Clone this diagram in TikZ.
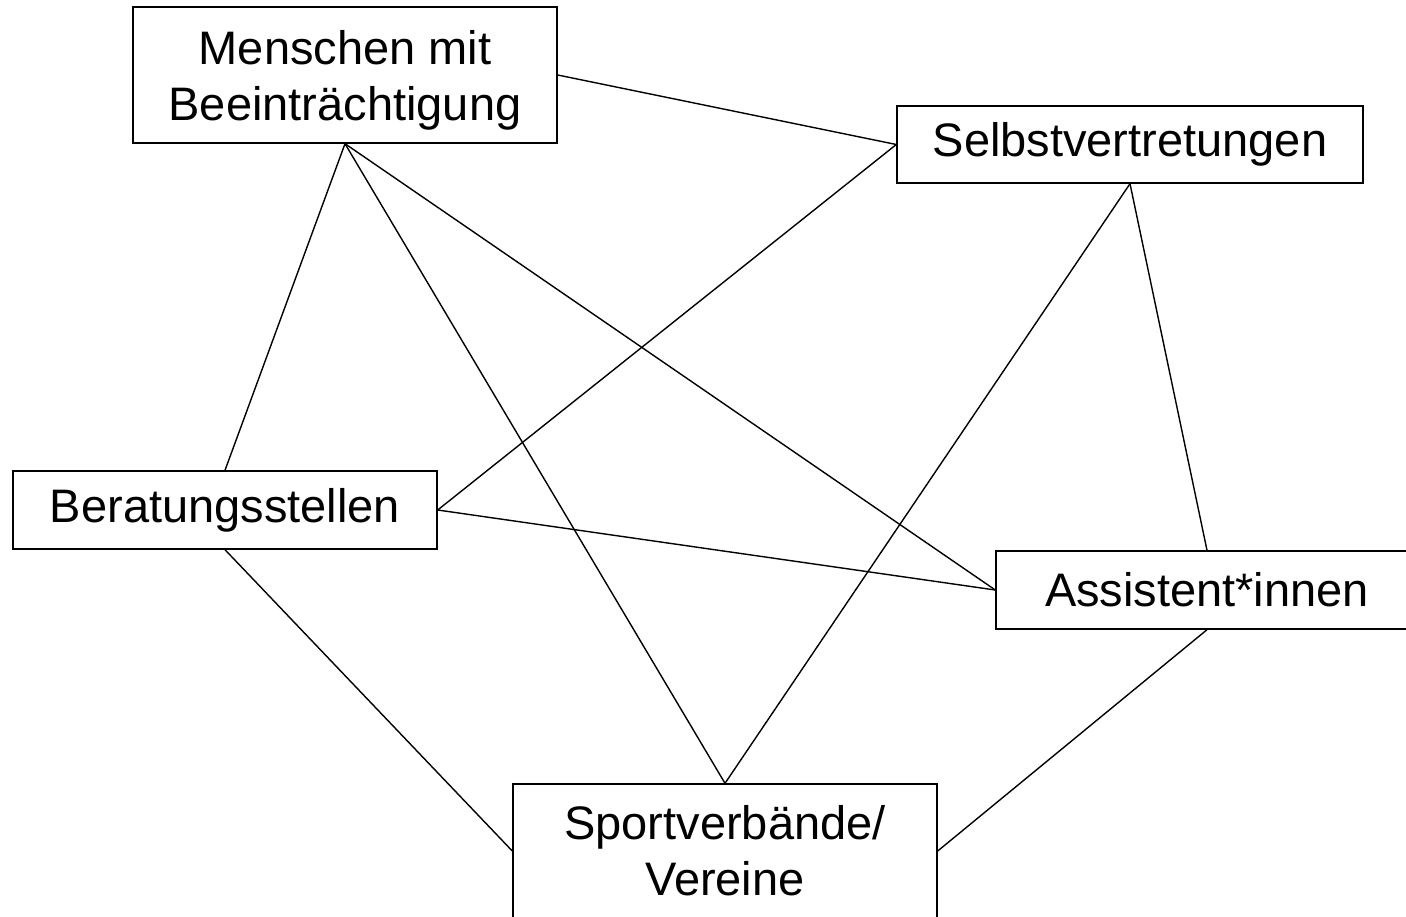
\documentclass[tikz,border=0pt]{standalone}
\usepackage{fontspec}
\setmainfont{Liberation Sans}
\begin{document}
\begin{tikzpicture}[x=1pt,y=-1pt,
  box/.style={draw, line width=1.4pt, inner sep=0pt, align=center, font=\fontsize{47}{56}\selectfont},
  link/.style={line width=1.4pt}]
\useasboundingbox (0,0) rectangle (1406,916);
\clip (0,0) rectangle (1406,916);
\fill[white] (0,0) rectangle (1406,916);
\node[box, minimum width=424pt, minimum height=136pt] (m) at (345,75) {\rule{0pt}{44pt}Menschen mit\\Beeinträchtigung};
\node[box, minimum width=466pt, minimum height=77pt] (s) at (1130,144.5) {Selbstvertretungen};
\node[box, minimum width=424pt, minimum height=78pt] (b) at (225,510) {Beratungsstellen};
\node[box, minimum width=422pt, minimum height=78pt] (a) at (1207,590) {Assistent*innen};
\node[box, minimum width=424pt, minimum height=134pt] (v) at (725,851) {Sportverbände/\\Vereine};
\draw[link] (m.east) -- (s.west);
\draw[link] (m.south) -- (b.north);
\draw[link] (m.south) -- (v.north);
\draw[link] (m.south) -- (a.west);
\draw[link] (s.west) -- (b.east);
\draw[link] (s.south) -- (v.north);
\draw[link] (s.south) -- (a.north);
\draw[link] (b.east) -- (a.west);
\draw[link] (b.south) -- (v.west);
\draw[link] (a.south) -- (v.east);
\end{tikzpicture}
\end{document}
